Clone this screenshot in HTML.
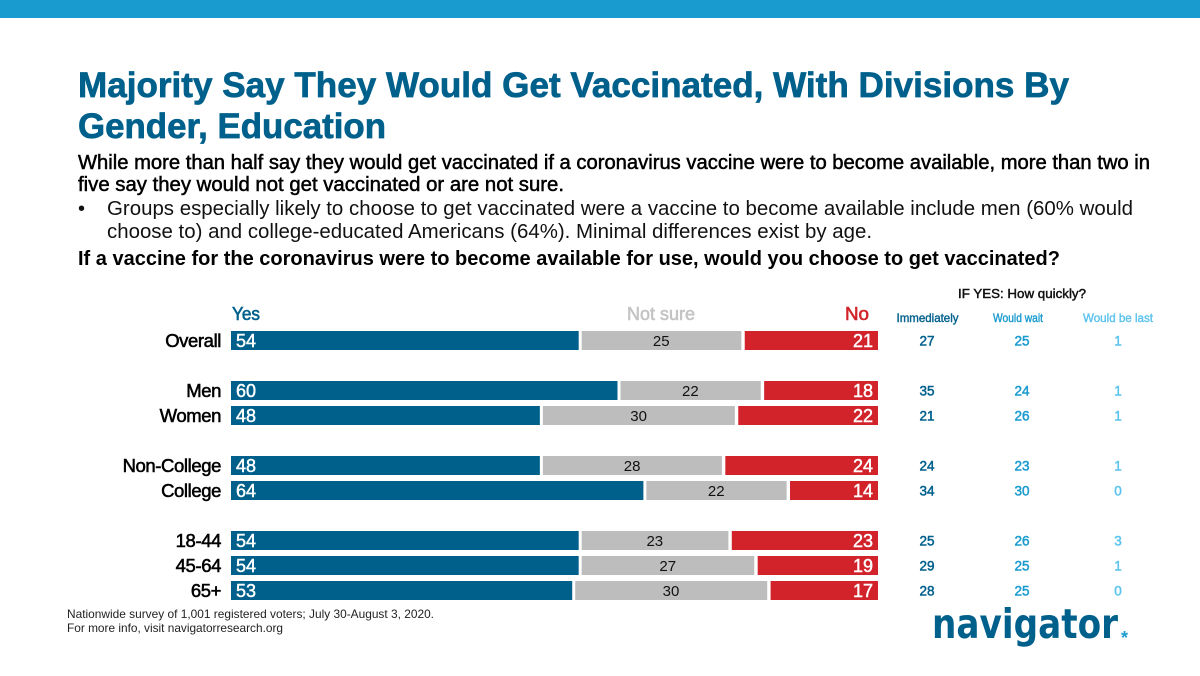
<!DOCTYPE html>
<html lang="en">
<head>
<meta charset="utf-8">
<title>Majority Say They Would Get Vaccinated</title>
<style>
html,body{margin:0;padding:0;background:#fff;width:1200px;height:676px;overflow:hidden}
svg{display:block;font-family:"Liberation Sans",sans-serif}
</style>
</head>
<body>
<svg id="slide" xmlns="http://www.w3.org/2000/svg" width="1200" height="676" viewBox="0 0 1200 676">
  <rect x="0" y="0" width="1200" height="676" fill="#fff"/>
  <rect x="0" y="0" width="1200" height="18" fill="#1a9bcf"/>

  <text x="78" y="97" font-size="35" font-weight="700" fill="#00608c" stroke="#00608c" stroke-width="0.7" textLength="991" lengthAdjust="spacingAndGlyphs">Majority Say They Would Get Vaccinated, With Divisions By</text>
  <text x="78" y="138" font-size="35" font-weight="700" fill="#00608c" stroke="#00608c" stroke-width="0.7" textLength="308" lengthAdjust="spacingAndGlyphs">Gender, Education</text>

  <text x="78" y="169" font-size="20" fill="#000" stroke="#000" stroke-width="0.5" textLength="1072" lengthAdjust="spacingAndGlyphs">While more than half say they would get vaccinated if a coronavirus vaccine were to become available, more than two in</text>
  <text x="78" y="191" font-size="20" fill="#000" stroke="#000" stroke-width="0.5" textLength="486" lengthAdjust="spacingAndGlyphs">five say they would not get vaccinated or are not sure.</text>

  <text x="78" y="215" font-size="20" fill="#111">•</text>
  <text x="107" y="215" font-size="20" fill="#111" textLength="1026" lengthAdjust="spacingAndGlyphs">Groups especially likely to choose to get vaccinated were a vaccine to become available include men (60% would</text>
  <text x="107" y="238" font-size="20" fill="#111" textLength="765" lengthAdjust="spacingAndGlyphs">choose to) and college-educated Americans (64%). Minimal differences exist by age.</text>

  <text x="78" y="265" font-size="20" font-weight="700" fill="#000" textLength="982" lengthAdjust="spacingAndGlyphs">If a vaccine for the coronavirus were to become available for use, would you choose to get vaccinated?</text>

  <text x="232" y="320" font-size="18" fill="#00608c" stroke="#00608c" stroke-width="0.6" textLength="28" lengthAdjust="spacingAndGlyphs">Yes</text>
  <text x="627" y="320" font-size="18" fill="#c4c4c4" stroke="#c4c4c4" stroke-width="0.6" textLength="68" lengthAdjust="spacingAndGlyphs">Not sure</text>
  <text x="845" y="320" font-size="18" fill="#d2232a" stroke="#d2232a" stroke-width="0.6" textLength="24" lengthAdjust="spacingAndGlyphs">No</text>

  <text x="1022" y="298" font-size="12.5" text-anchor="middle" fill="#111" stroke="#111" stroke-width="0.45" textLength="128" lengthAdjust="spacingAndGlyphs">IF YES: How quickly?</text>
  <text x="927.5" y="322" font-size="12" text-anchor="middle" fill="#00608c" stroke="#00608c" stroke-width="0.4" textLength="62" lengthAdjust="spacingAndGlyphs">Immediately</text>
  <text x="1018" y="322" font-size="12" text-anchor="middle" fill="#1a9bcf" stroke="#1a9bcf" stroke-width="0.4" textLength="50" lengthAdjust="spacingAndGlyphs">Would wait</text>
  <text x="1118" y="322" font-size="12" text-anchor="middle" fill="#5cc3ee" stroke="#5cc3ee" stroke-width="0.4" textLength="70" lengthAdjust="spacingAndGlyphs">Would be last</text>

  <g id="chart"></g>

  <text x="67" y="618" font-size="12" fill="#222" textLength="367" lengthAdjust="spacingAndGlyphs">Nationwide survey of 1,001 registered voters; July 30-August 3, 2020.</text>
  <text x="67" y="632" font-size="12" fill="#222" textLength="216" lengthAdjust="spacingAndGlyphs">For more info, visit navigatorresearch.org</text>

  <text x="932" y="638" font-size="41" font-weight="700" fill="#00608c" style="font-family:'DejaVu Sans',sans-serif" textLength="186" lengthAdjust="spacingAndGlyphs">navigator</text>
  <text x="1121" y="644" font-size="18" font-weight="700" fill="#1a9bcf">*</text>
</svg>

<script>
const groups = ["Overall", "Men", "Women", "Non-College", "College", "18-44", "45-64", "65+"];
const rowSlots = [0, 2, 3, 5, 6, 8, 9, 10];
const yesValues = [54, 60, 48, 48, 64, 54, 54, 53];
const notSureValues = [25, 22, 30, 28, 22, 23, 27, 30];
const noValues = [21, 18, 22, 24, 14, 23, 19, 17];
const immediatelyValues = [27, 35, 21, 24, 34, 25, 29, 28];
const wouldWaitValues = [25, 24, 26, 23, 30, 26, 25, 25];
const wouldBeLastValues = [1, 1, 1, 1, 0, 3, 1, 0];

const SVG_NS = "http://www.w3.org/2000/svg";
const chart = document.getElementById("chart");

function xScale(v) { return 231 + v * 6.47; }
function yScale(slot) { return 340.5 + slot * 25; }

function makeText(x, y, content, size, anchor, fill, strokeWidth) {
  const t = document.createElementNS(SVG_NS, "text");
  t.setAttribute("x", x);
  t.setAttribute("y", y);
  t.setAttribute("font-size", size);
  t.setAttribute("text-anchor", anchor);
  t.setAttribute("fill", fill);
  if (strokeWidth) {
    t.setAttribute("stroke", fill);
    t.setAttribute("stroke-width", strokeWidth);
  }
  t.textContent = content;
  return t;
}

function makeBar(x0, x1, cy, fill) {
  const r = document.createElementNS(SVG_NS, "rect");
  r.setAttribute("x", x0);
  r.setAttribute("y", cy - 9.5);
  r.setAttribute("width", x1 - x0);
  r.setAttribute("height", 19);
  r.setAttribute("fill", fill);
  return r;
}

groups.forEach(function (name, i) {
  const cy = yScale(rowSlots[i]);
  const base = cy + 6;

  const label = makeText(221, base + 0.5, name, 18.5, "end", "#000", 0.55);
  label.setAttribute("letter-spacing", "-0.4");
  
  
  chart.appendChild(label);

  const yesEnd = xScale(yesValues[i]);
  const unsureEnd = xScale(yesValues[i] + notSureValues[i]);
  const noEnd = xScale(yesValues[i] + notSureValues[i] + noValues[i]);

  const yesBar = makeBar(xScale(0), yesEnd - 1.7, cy, "#00608c");
  
  
  chart.appendChild(yesBar);

  const unsureBar = makeBar(yesEnd + 1.3, unsureEnd - 0.8, cy, "#bdbdbd");
  
  
  chart.appendChild(unsureBar);

  const noBar = makeBar(unsureEnd + 2.6, noEnd, cy, "#d2232a");
  
  
  chart.appendChild(noBar);

  const yesText = makeText(xScale(0) + 5, base + 0.5, yesValues[i], 18, "start", "#fff", 0.45);
  
  
  chart.appendChild(yesText);

  const unsureText = makeText((yesEnd + unsureEnd) / 2, base - 0.5, notSureValues[i], 15, "middle", "#111");
  
  
  chart.appendChild(unsureText);

  const noText = makeText(noEnd - 5, base + 0.5, noValues[i], 18, "end", "#fff", 0.45);
  
  
  chart.appendChild(noText);

  const immediateText = makeText(927, base - 1, immediatelyValues[i], 13.5, "middle", "#00608c", 0.5);
  
  
  chart.appendChild(immediateText);

  const waitText = makeText(1022, base - 1, wouldWaitValues[i], 13.5, "middle", "#1a9bcf", 0.5);
  
  
  chart.appendChild(waitText);

  const lastText = makeText(1118, base - 1, wouldBeLastValues[i], 13.5, "middle", "#5cc3ee", 0.5);
  
  
  chart.appendChild(lastText);
});
</script>
</body>
</html>
